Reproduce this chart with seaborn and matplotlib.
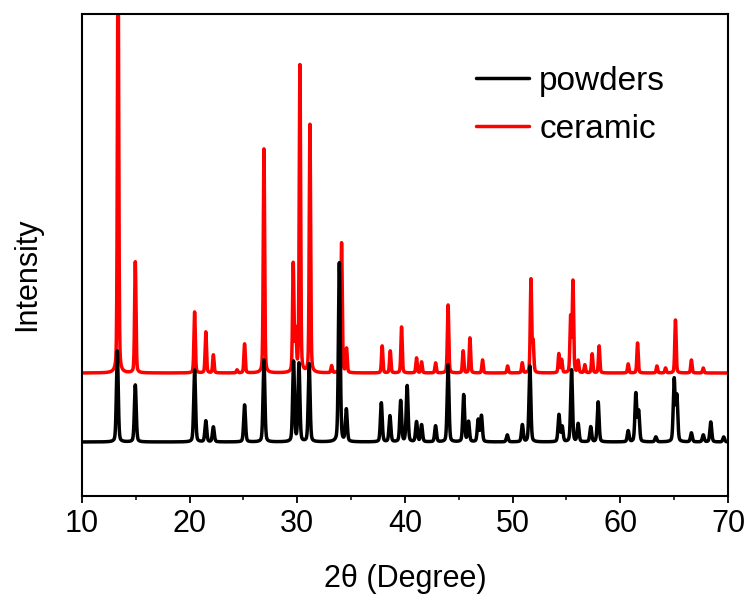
import numpy as np
import pandas as pd
import matplotlib
matplotlib.use("Agg")
import matplotlib.pyplot as plt
import seaborn as sns

# ---- data (2theta in degrees, intensity in arbitrary units) ----
x_range = [10, 70]
x_ticks = [10, 20, 30, 40, 50, 60, 70]

powders_baseline = 54
powders_pos = [13.28, 14.95, 20.46, 21.5, 22.2, 25.1, 26.9, 29.65, 30.15, 31.1,
               33.9, 34.55, 37.8, 38.6, 39.6, 40.2, 41.07, 41.54, 42.84, 44.0,
               45.45, 45.9, 46.8, 47.1, 49.5, 50.9, 51.6, 54.3, 54.6, 55.47,
               56.08, 57.25, 57.94, 60.73, 61.44, 61.7, 63.3, 65.0, 65.25, 66.6,
               67.7, 68.4, 69.6]
powders_int = [91, 57, 72, 21, 15, 37, 82, 80, 78, 78,
               179, 32, 39, 26, 41, 56, 20, 17, 16, 77,
               47, 20, 22, 26, 7, 17, 76, 27, 15, 72,
               18, 15, 40, 11, 48, 30, 5, 62, 45, 9,
               7, 20, 5]

ceramic_baseline = 123
ceramic_pos = [13.35, 14.95, 20.46, 21.5, 22.2, 24.4, 25.1, 26.9, 29.62, 29.85,
               30.24, 31.17, 33.18, 34.11, 34.57, 37.88, 38.63, 39.68, 41.07, 41.54,
               42.84, 44.0, 45.4, 46.03, 47.2, 49.53, 50.89, 51.7, 51.9, 54.29,
               54.55, 55.38, 55.6, 56.08, 56.7, 57.38, 58.03, 60.73, 61.6, 63.4,
               64.2, 65.12, 66.6, 67.7]
ceramic_int = [420, 111, 61, 41, 18, 3, 29, 224, 108, 40,
               307, 248, 7, 130, 24, 27, 22, 46, 15, 11,
               10, 68, 22, 35, 13, 7, 10, 93, 30, 19,
               13, 55, 91, 12, 8, 19, 27, 9, 30, 7,
               5, 53, 13, 5]

series_names = ["powders", "ceramic"]
series_colors = ["#000000", "#ff0000"]

# ---- build the patterns from the peak lists (pseudo-Voigt peak profile) ----
two_theta = np.round(np.arange(x_range[0], x_range[1] + 0.005, 0.01), 2)


def pattern(base, pos, inten, fwhm, eta=0.3):
    y = np.full_like(two_theta, float(base))
    for p, h in zip(pos, inten):
        d = two_theta - p
        g = np.exp(-4 * np.log(2) * (d / fwhm) ** 2)
        lor = 1.0 / (1.0 + (2 * d / fwhm) ** 2)
        y += h * ((1 - eta) * g + eta * lor)
    return y


powders_y = pattern(powders_baseline, powders_pos, powders_int, 0.2)
ceramic_y = pattern(ceramic_baseline, ceramic_pos, ceramic_int, 0.15)

df = pd.concat([
    pd.DataFrame({"2theta": two_theta, "I": ceramic_y, "sample": "ceramic"}),
    pd.DataFrame({"2theta": two_theta, "I": powders_y, "sample": "powders"}),
])

# ---- figure ----
sns.set_theme(style="ticks")
plt.rcParams["font.family"] = ["Liberation Sans", "DejaVu Sans"]
plt.rcParams["text.color"] = "black"
plt.rcParams["axes.labelcolor"] = "black"
plt.rcParams["xtick.color"] = "black"
plt.rcParams["ytick.color"] = "black"

fig = plt.figure(figsize=(7.5, 6.01), dpi=100)
ax = fig.add_axes([82 / 750, 1 - 496 / 601, (728 - 82) / 750, (496 - 14) / 601])

# ceramic first so powders sits on top
sns.lineplot(data=df[df["sample"] == "ceramic"], x="2theta", y="I", color=series_colors[1],
             lw=2.5, estimator=None, sort=False, ax=ax, label="ceramic")
sns.lineplot(data=df[df["sample"] == "powders"], x="2theta", y="I", color=series_colors[0],
             lw=2.5, estimator=None, sort=False, ax=ax, label="powders")

ax.set_xlim(*x_range)
ax.set_ylim(0, 482)
ax.set_xticks(x_ticks)
ax.set_xticks(np.arange(15, 70, 10), minor=True)
ax.set_yticks([])
ax.tick_params(axis="x", which="major", direction="out", length=5, width=1.3,
               labelsize=22, pad=4, colors="black")
ax.tick_params(axis="x", which="minor", direction="out", length=3, width=1.1,
               colors="black")
for s in ax.spines.values():
    s.set_visible(True)
    s.set_linewidth(1.5)
    s.set_color("black")

ax.set_xlabel("2θ (Degree)", fontsize=22, labelpad=18, color="black")
ax.set_ylabel("Intensity", fontsize=22, color="black")
ax.yaxis.set_label_coords(-0.062, 0.46)

handles, labels = ax.get_legend_handles_labels()
order = [labels.index(n) for n in series_names]
leg = ax.legend([handles[i] for i in order], [labels[i] for i in order],
                loc="upper left", bbox_to_anchor=(476 / 750, 1 - 66 / 601),
                bbox_transform=fig.transFigure, frameon=False, fontsize=24,
                handlelength=1.6, handletextpad=0.3, labelspacing=0.5,
                borderpad=0, borderaxespad=0)
for t in leg.get_texts():
    t.set_color("black")

fig.savefig("out.png", dpi=100)
